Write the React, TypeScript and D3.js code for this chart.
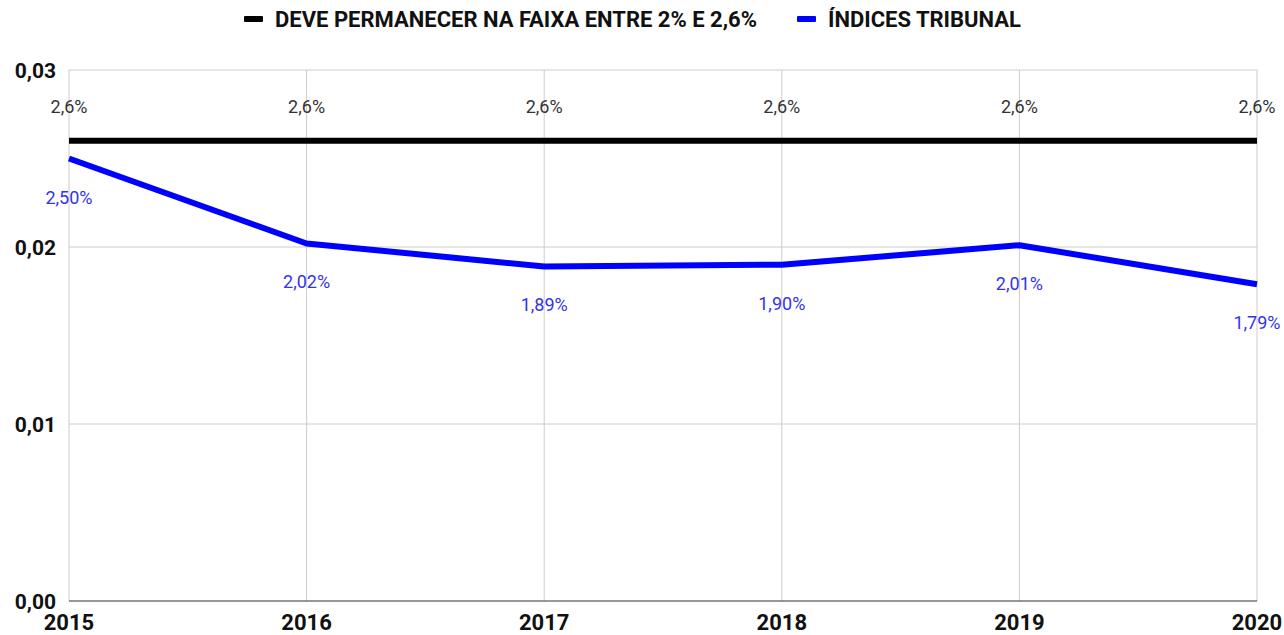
import React, { useEffect, useRef } from "react";
import * as d3 from "d3";

const years = ["2015", "2016", "2017", "2018", "2019", "2020"];
const targetValues = [0.026, 0.026, 0.026, 0.026, 0.026, 0.026];
const targetLabels = ["2,6%", "2,6%", "2,6%", "2,6%", "2,6%", "2,6%"];
const courtValues = [0.025, 0.0202, 0.0189, 0.019, 0.0201, 0.0179];
const courtLabels = ["2,50%", "2,02%", "1,89%", "1,90%", "2,01%", "1,79%"];
const yTicks = [0, 0.01, 0.02, 0.03];
const seriesNames = ["DEVE PERMANECER NA FAIXA ENTRE 2% E 2,6%", "ÍNDICES TRIBUNAL"];

const App = () => {
  const ref = useRef<SVGSVGElement>(null);

  useEffect(() => {
    const svg = d3.select(ref.current);
    svg.selectAll("*").remove();

    const width = 1284;
    const height = 635;
    const margin = { top: 70, right: 27, bottom: 34, left: 69 };
    const font = "Roboto, sans-serif";

    const x = d3.scalePoint<string>()
      .domain(years)
      .range([margin.left, width - margin.right]);

    const y = d3.scaleLinear()
      .domain([0, 0.03])
      .range([height - margin.bottom, margin.top]);

    // grid
    svg.append("g")
      .selectAll("line")
      .data(yTicks.filter(d => d > 0))
      .join("line")
      .attr("x1", margin.left)
      .attr("x2", width - margin.right)
      .attr("y1", d => y(d))
      .attr("y2", d => y(d))
      .attr("stroke", "#cccccc")
      .attr("stroke-width", 1);

    svg.append("g")
      .selectAll("line")
      .data(years)
      .join("line")
      .attr("x1", d => x(d)!)
      .attr("x2", d => x(d)!)
      .attr("y1", y(0.03))
      .attr("y2", y(0))
      .attr("stroke", "#cccccc")
      .attr("stroke-width", 1);

    svg.append("line")
      .attr("x1", margin.left)
      .attr("x2", width - margin.right)
      .attr("y1", y(0))
      .attr("y2", y(0))
      .attr("stroke", "#333333")
      .attr("stroke-width", 1);

    // y tick labels
    svg.append("g")
      .selectAll("text")
      .data(yTicks)
      .join("text")
      .attr("x", 56)
      .attr("y", d => y(d) + 8)
      .attr("text-anchor", "end")
      .attr("font-family", font)
      .attr("font-weight", "bold")
      .attr("font-size", 21)
      .attr("fill", "#111")
      .text(d => d3.format(".2f")(d).replace(".", ","));

    // x labels
    svg.append("g")
      .selectAll("text")
      .data(years)
      .join("text")
      .attr("x", d => x(d)!)
      .attr("y", 630)
      .attr("text-anchor", "middle")
      .attr("font-family", font)
      .attr("font-weight", "bold")
      .attr("font-size", 22)
      .attr("fill", "#111")
      .text(d => d);

    const line = d3.line<number>()
      .x((_, i) => x(years[i])!)
      .y(d => y(d));

    svg.append("path")
      .datum(targetValues)
      .attr("fill", "none")
      .attr("stroke", "#000000")
      .attr("stroke-width", 6)
      .attr("d", line);

    svg.append("path")
      .datum(courtValues)
      .attr("fill", "none")
      .attr("stroke", "#0000ff")
      .attr("stroke-width", 6)
      .attr("stroke-linejoin", "round")
      .attr("d", line);

    // data labels
    svg.append("g")
      .selectAll("text")
      .data(targetValues)
      .join("text")
      .attr("x", (_, i) => x(years[i])!)
      .attr("y", d => y(d) - 28)
      .attr("text-anchor", "middle")
      .attr("font-family", font)
      .attr("font-size", 18)
      .attr("fill", "#333")
      .text((_, i) => targetLabels[i]);

    svg.append("g")
      .selectAll("text")
      .data(courtValues)
      .join("text")
      .attr("x", (_, i) => x(years[i])!)
      .attr("y", d => y(d) + 45)
      .attr("text-anchor", "middle")
      .attr("font-family", font)
      .attr("font-size", 18)
      .attr("fill", "#3333ee")
      .text((_, i) => courtLabels[i]);

    // legend
    const legendColors = ["#000000", "#0000ff"];
    const legendX = [244, 797];
    const legend = svg.append("g");
    seriesNames.forEach((name, i) => {
      legend.append("rect")
        .attr("x", legendX[i])
        .attr("y", 16)
        .attr("width", 19)
        .attr("height", 6)
        .attr("rx", 1)
        .attr("fill", legendColors[i]);
      legend.append("text")
        .attr("x", legendX[i] + 31)
        .attr("y", 27)
        .attr("font-family", font)
        .attr("font-weight", "bold")
        .attr("font-size", 22)
        .attr("fill", "#111")
        .text(name);
    });
  }, []);

  return (
    <svg
      ref={ref}
      width={1284}
      height={635}
      style={{ position: "absolute", left: 0, top: 0, background: "#fff" }}
    ></svg>
  );
};

export default App;
